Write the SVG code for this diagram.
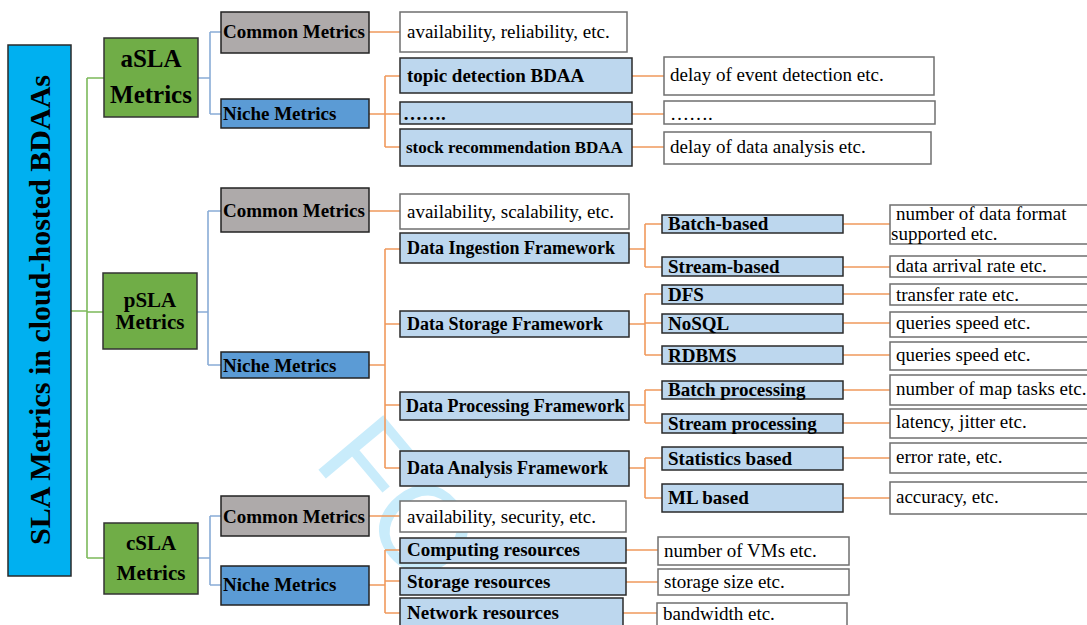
<svg xmlns="http://www.w3.org/2000/svg" width="1087" height="625" viewBox="0 0 1087 625">
  <style>
    .title { fill: #00b0f0; stroke: #2a2a2a; stroke-width: 1.5; }
    .grp { fill: #70ad47; stroke: #333; stroke-width: 1.5; }
    .common { fill: #aeaaaa; stroke: #222; stroke-width: 1.5; }
    .niche { fill: #5b9bd5; stroke: #222; stroke-width: 1.5; }
    .item { fill: #bdd7ee; stroke: #2a2a2a; stroke-width: 1.5; }
    .val { fill: #ffffff; stroke: #6f6f6f; stroke-width: 1.5; }
    text { font-family: "Liberation Serif", "Times New Roman", serif; fill: #000; }
    .b { font-weight: bold; }
    .t19 { font-size: 19px; }
    .t18 { font-size: 18px; }
    .t17 { font-size: 17px; }
    .c-green { stroke: #7cb95a; }
    .c-blue { stroke: #89acd6; }
    .c-orange { stroke: #f0995c; }
    #connectors path { fill: none; stroke-width: 1.6; }
    .wm { font-family: "Liberation Sans", Arial, sans-serif; font-size: 123px; fill: #c9ecfb; }
  </style>

  <rect width="1087" height="625" fill="#ffffff"/>

  <!-- faint background mark -->
  <text class="wm" transform="translate(312,462) rotate(50)">FO</text>

  <g id="connectors">
    <!-- root to SLA groups -->
    <path class="c-green" d="M71,311 H87 M87,78 V558 M87,78 H104 M87,312 H103 M87,558 H104"/>
    <!-- groups to metric categories -->
    <path class="c-blue" d="M198,78 H210 M210,32 V114 M210,32 H221 M210,114 H221"/>
    <path class="c-blue" d="M197,312 H208 M208,211 V365 M208,211 H221 M208,365 H221"/>
    <path class="c-blue" d="M198,558 H210 M210,516 V585 M210,516 H221 M210,585 H221"/>
    <!-- aSLA branches -->
    <path class="c-orange" d="M369,32 H400 M369,114 H385 M385,76 V147 M385,76 H400 M385,114 H400 M385,147 H400"/>
    <path class="c-orange" d="M632,76 H664 M632,114 H664 M632,147 H664"/>
    <!-- pSLA branches -->
    <path class="c-orange" d="M369,211 H400 M369,365 H385 M385,249 V468 M385,249 H400 M385,324 H400 M385,405 H400 M385,468 H400"/>
    <path class="c-orange" d="M629,249 H645 M645,224 V267 M645,224 H662 M645,267 H662"/>
    <path class="c-orange" d="M629,324 H645 M645,294 V355 M645,294 H662 M645,323 H662 M645,355 H662"/>
    <path class="c-orange" d="M629,405 H645 M645,390 V423 M645,390 H662 M645,423 H662"/>
    <path class="c-orange" d="M629,468 H645 M645,458 V498 M645,458 H662 M645,498 H662"/>
    <path class="c-orange" d="M843,224 H890 M843,267 H890 M843,294 H890 M843,323 H890 M843,355 H890 M843,390 H890 M843,423 H890 M843,458 H890 M843,498 H890"/>
    <!-- cSLA branches -->
    <path class="c-orange" d="M369,516 H400 M369,585 H385 M385,550 V613 M385,550 H400 M385,581 H400 M385,613 H400"/>
    <path class="c-orange" d="M626,550 H658 M626,582 H658 M623,613 H657"/>
  </g>

  <!-- root -->
  <g id="root">
    <rect class="title" x="8" y="45" width="63" height="531"/>
    <text class="b" font-size="30" text-anchor="middle" transform="translate(50,310) rotate(-90)">SLA Metrics in cloud-hosted BDAAs</text>
  </g>

  <!-- SLA groups -->
  <g id="asla">
    <rect class="grp" x="104" y="38" width="94" height="79"/>
    <text class="b" font-size="25" text-anchor="middle" x="151" y="67">aSLA</text>
    <text class="b" font-size="25" text-anchor="middle" x="151" y="103">Metrics</text>
  </g>
  <g id="psla">
    <rect class="grp" x="103" y="273" width="94" height="76"/>
    <text class="b" font-size="21" text-anchor="middle" x="150" y="307">pSLA</text>
    <text class="b" font-size="21" text-anchor="middle" x="150" y="329">Metrics</text>
  </g>
  <g id="csla">
    <rect class="grp" x="104" y="523" width="94" height="71"/>
    <text class="b" font-size="21" text-anchor="middle" x="151" y="550">cSLA</text>
    <text class="b" font-size="21" text-anchor="middle" x="151" y="580">Metrics</text>
  </g>

  <!-- aSLA categories -->
  <g id="asla-common">
    <rect class="common" x="221" y="12" width="148" height="41"/>
    <text class="b t19" x="223" y="38">Common Metrics</text>
  </g>
  <g id="asla-niche">
    <rect class="niche" x="221" y="99" width="148" height="29"/>
    <text class="b t19" x="223" y="120">Niche Metrics</text>
  </g>
  <g id="asla-common-val">
    <rect class="val" x="400" y="12" width="227" height="40"/>
    <text class="t19" x="407" y="38">availability, reliability, etc.</text>
  </g>
  <g id="topic-bdaa">
    <rect class="item" x="400" y="58" width="232" height="35"/>
    <text class="b t19" x="407" y="82">topic detection BDAA</text>
  </g>
  <g id="more-bdaa">
    <rect class="item" x="400" y="102" width="232" height="22"/>
    <text class="b t19" x="403" y="120">…….</text>
  </g>
  <g id="stock-bdaa">
    <rect class="item" x="400" y="129" width="232" height="37"/>
    <text class="b t17" x="406" y="153">stock recommendation BDAA</text>
  </g>
  <g id="topic-val">
    <rect class="val" x="664" y="57" width="270" height="38"/>
    <text class="t19" x="670" y="81">delay of event detection etc.</text>
  </g>
  <g id="more-val">
    <rect class="val" x="664" y="101" width="271" height="23"/>
    <text class="t19" x="670" y="120">…….</text>
  </g>
  <g id="stock-val">
    <rect class="val" x="664" y="132" width="267" height="32"/>
    <text class="t19" x="670" y="153">delay of data analysis etc.</text>
  </g>

  <!-- pSLA categories -->
  <g id="psla-common">
    <rect class="common" x="221" y="188" width="148" height="44"/>
    <text class="b t19" x="223" y="217">Common Metrics</text>
  </g>
  <g id="psla-niche">
    <rect class="niche" x="221" y="352" width="148" height="26"/>
    <text class="b t19" x="223" y="372">Niche Metrics</text>
  </g>
  <g id="psla-common-val">
    <rect class="val" x="400" y="194" width="229" height="35"/>
    <text class="t19" x="407" y="218">availability, scalability, etc.</text>
  </g>
  <g id="ingestion">
    <rect class="item" x="400" y="233" width="229" height="30"/>
    <text class="b t18" x="407" y="254">Data Ingestion Framework</text>
  </g>
  <g id="storage">
    <rect class="item" x="400" y="311" width="229" height="26"/>
    <text class="b t18" x="407" y="330">Data Storage Framework</text>
  </g>
  <g id="processing">
    <rect class="item" x="400" y="392" width="229" height="28"/>
    <text class="b t18" x="406" y="412">Data Processing Framework</text>
  </g>
  <g id="analysis">
    <rect class="item" x="400" y="451" width="229" height="35"/>
    <text class="b t18" x="407" y="474">Data Analysis Framework</text>
  </g>

  <g id="batch-based">
    <rect class="item" x="662" y="215" width="181" height="18"/>
    <text class="b t19" x="668" y="230">Batch-based</text>
  </g>
  <g id="stream-based">
    <rect class="item" x="662" y="257" width="181" height="19"/>
    <text class="b t19" x="668" y="273">Stream-based</text>
  </g>
  <g id="dfs">
    <rect class="item" x="662" y="285" width="181" height="19"/>
    <text class="b t19" x="668" y="301">DFS</text>
  </g>
  <g id="nosql">
    <rect class="item" x="662" y="314" width="181" height="19"/>
    <text class="b t19" x="668" y="330">NoSQL</text>
  </g>
  <g id="rdbms">
    <rect class="item" x="662" y="346" width="181" height="18"/>
    <text class="b t19" x="668" y="362">RDBMS</text>
  </g>
  <g id="batch-processing">
    <rect class="item" x="662" y="381" width="181" height="18"/>
    <text class="b t19" x="668" y="396">Batch processing</text>
  </g>
  <g id="stream-processing">
    <rect class="item" x="662" y="414" width="181" height="19"/>
    <text class="b t19" x="668" y="430">Stream processing</text>
  </g>
  <g id="statistics-based">
    <rect class="item" x="662" y="447" width="181" height="23"/>
    <text class="b t19" x="668" y="465">Statistics based</text>
  </g>
  <g id="ml-based">
    <rect class="item" x="662" y="484" width="181" height="28"/>
    <text class="b t19" x="668" y="504">ML based</text>
  </g>

  <g id="batch-based-val">
    <rect class="val" x="890" y="205" width="205" height="39"/>
    <text class="t19" x="896" y="220">number of data format</text>
    <text class="t19" x="891" y="240">supported etc.</text>
  </g>
  <g id="stream-based-val">
    <rect class="val" x="890" y="256" width="205" height="21"/>
    <text class="t19" x="896" y="272">data arrival rate etc.</text>
  </g>
  <g id="dfs-val">
    <rect class="val" x="890" y="284" width="205" height="21"/>
    <text class="t19" x="896" y="301">transfer rate etc.</text>
  </g>
  <g id="nosql-val">
    <rect class="val" x="890" y="312" width="205" height="25"/>
    <text class="t19" x="896" y="329">queries speed etc.</text>
  </g>
  <g id="rdbms-val">
    <rect class="val" x="890" y="342" width="205" height="28"/>
    <text class="t19" x="896" y="361">queries speed etc.</text>
  </g>
  <g id="batch-processing-val">
    <rect class="val" x="890" y="375" width="205" height="30"/>
    <text class="t19" x="896" y="395">number of map tasks etc.</text>
  </g>
  <g id="stream-processing-val">
    <rect class="val" x="890" y="409" width="205" height="29"/>
    <text class="t19" x="896" y="428">latency, jitter etc.</text>
  </g>
  <g id="statistics-val">
    <rect class="val" x="890" y="443" width="205" height="30"/>
    <text class="t19" x="896" y="463">error rate, etc.</text>
  </g>
  <g id="ml-val">
    <rect class="val" x="890" y="482" width="205" height="32"/>
    <text class="t19" x="896" y="503">accuracy, etc.</text>
  </g>

  <!-- cSLA categories -->
  <g id="csla-common">
    <rect class="common" x="221" y="496" width="148" height="40"/>
    <text class="b t19" x="223" y="523">Common Metrics</text>
  </g>
  <g id="csla-niche">
    <rect class="niche" x="221" y="566" width="148" height="39"/>
    <text class="b t19" x="223" y="591">Niche Metrics</text>
  </g>
  <g id="csla-common-val">
    <rect class="val" x="400" y="501" width="226" height="31"/>
    <text class="t19" x="407" y="523">availability, security, etc.</text>
  </g>
  <g id="computing">
    <rect class="item" x="400" y="538" width="226" height="25"/>
    <text class="b t19" x="407" y="556">Computing resources</text>
  </g>
  <g id="storage-res">
    <rect class="item" x="400" y="568" width="226" height="27"/>
    <text class="b t19" x="407" y="588">Storage resources</text>
  </g>
  <g id="network">
    <rect class="item" x="400" y="598" width="223" height="32"/>
    <text class="b t19" x="407" y="619">Network resources</text>
  </g>
  <g id="computing-val">
    <rect class="val" x="658" y="537" width="191" height="28"/>
    <text class="t19" x="664" y="557">number of VMs etc.</text>
  </g>
  <g id="storage-res-val">
    <rect class="val" x="658" y="569" width="191" height="26"/>
    <text class="t19" x="664" y="588">storage size etc.</text>
  </g>
  <g id="network-val">
    <rect class="val" x="657" y="603" width="190" height="30"/>
    <text class="t19" x="663" y="620">bandwidth etc.</text>
  </g>
</svg>
